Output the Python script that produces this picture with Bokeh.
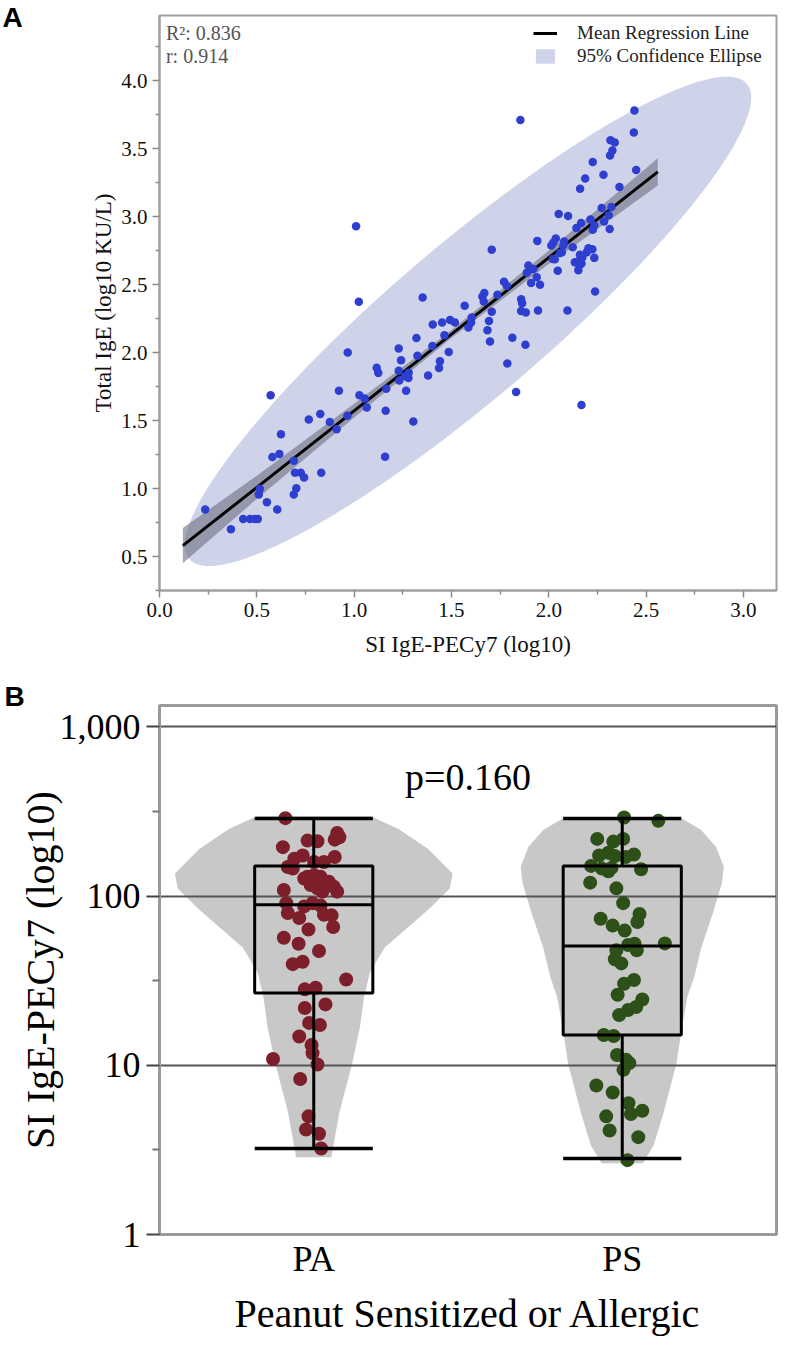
import numpy as np
from bokeh.plotting import figure
from bokeh.layouts import column
from bokeh.models import (Range1d, FactorRange, FixedTicker, NumeralTickFormatter,
                          Label, Legend, LegendItem)
from bokeh.embed import file_html
from bokeh.resources import INLINE

SERIF = "Liberation Serif"
SANS = "Liberation Sans"

# ---------------- Panel A data ----------------
si_log = [0.235, 0.367, 0.430, 0.465, 0.490, 0.505, 0.510, 0.516, 0.552, 0.605,
          0.571, 0.624, 0.580, 0.616, 0.690, 0.696, 0.726, 0.743, 0.703, 0.690,
          0.767, 0.826, 0.831, 0.875, 0.910, 0.922, 0.965, 0.967, 1.010, 1.024,
          1.027, 1.054, 1.065, 1.116, 1.124, 1.162, 1.165, 1.159, 1.229, 1.241,
          1.229, 1.232, 1.280, 1.263, 1.279, 1.267, 1.304, 1.320, 1.325, 1.352,
          1.380, 1.404, 1.402, 1.452, 1.441, 1.436, 1.464, 1.486, 1.493, 1.518,
          1.568, 1.587, 1.601, 1.604, 1.659, 1.669, 1.666, 1.707, 1.693, 1.685,
          1.698, 1.736, 1.707, 1.770, 1.784, 1.813, 1.787, 1.832, 1.854, 1.858,
          1.863, 1.858, 1.882, 1.880, 1.887, 1.895, 1.921, 1.909, 1.938, 1.955,
          1.945, 1.941, 2.013, 2.024, 2.036, 2.021, 2.031, 2.046, 2.051, 2.058,
          2.067, 2.075, 2.079, 2.096, 2.099, 2.123, 2.134, 2.142, 2.150, 2.152,
          2.157, 2.160, 2.161, 2.166, 2.168, 2.168, 2.172, 2.187, 2.195, 2.204,
          2.214, 2.224, 2.226, 2.226, 2.234, 2.234, 2.238, 2.272, 2.281, 2.284,
          2.308, 2.313, 2.315, 2.317, 2.322, 2.327, 2.339, 2.363, 2.437, 2.440,
          2.449]
ige_log = [0.845, 0.700, 0.776, 0.776, 0.776, 0.776, 0.956, 0.998, 0.900, 0.845,
           1.686, 1.400, 1.232, 1.254, 1.205, 1.116, 1.116, 1.082, 1.003, 0.956,
           1.508, 1.548, 1.116, 1.490, 1.437, 1.720, 1.535, 2.000, 2.930, 2.374,
           1.686, 1.663, 1.597, 1.888, 1.851, 1.572, 1.735, 1.234, 2.030, 1.944,
           1.866, 1.794, 1.851, 1.826, 1.814, 1.720, 1.493, 2.107, 1.977, 2.406,
           1.831, 2.206, 2.048, 2.221, 1.937, 1.886, 2.127, 2.004, 2.240, 2.221,
           2.344, 2.184, 2.221, 2.258, 2.413, 2.438, 2.376, 2.300, 2.233, 2.164,
           2.081, 2.425, 2.756, 2.521, 2.492, 2.110, 1.920, 1.711, 3.712, 2.393,
           2.364, 2.307, 2.295, 2.058, 2.588, 2.640, 2.615, 2.512, 2.554, 2.500,
           2.310, 2.822, 2.788, 2.810, 2.840, 2.689, 2.687, 2.603, 3.020, 2.732,
           2.739, 2.788, 2.817, 2.310, 3.005, 2.776, 2.665, 2.916, 2.670, 2.606,
           2.640, 2.720, 3.205, 2.953, 2.655, 1.614, 2.700, 3.281, 2.739, 2.768,
           2.980, 2.761, 2.904, 3.402, 2.936, 2.697, 2.450, 3.064, 3.308, 2.965,
           3.010, 2.909, 3.451, 3.562, 3.072, 3.486, 3.545, 3.219, 3.619, 3.782,
           3.343]

reg_x = [0.12, 2.56]
reg_y = [0.58, 3.33]
band_x = [0.12, 0.5, 1.0, 1.5, 2.0, 2.56]
band_lo = [0.45, 0.924, 1.523, 2.107, 2.651, 3.23]
band_hi = [0.71, 1.094, 1.623, 2.167, 2.751, 3.43]

ell_center = (1.585, 2.23)
ell_half_x = 1.455
ell_half_y = 1.80
r_value = 0.914
r2_value = 0.836

a_xticks = [0.0, 0.5, 1.0, 1.5, 2.0, 2.5, 3.0]
a_xminor = [0.25, 0.75, 1.25, 1.75, 2.25, 2.75]
a_yticks = [0.5, 1.0, 1.5, 2.0, 2.5, 3.0, 3.5, 4.0]
a_yminor = [0.25, 0.75, 1.25, 1.75, 2.25, 2.75, 3.25, 3.75, 4.25]

# ---------------- Panel B data ----------------
groups = ["PA", "PS"]
pa_si = [288.6, 236.0, 222.6, 215.5, 212.7, 211.0, 194.5, 170.2, 173.8, 166.3,
         159.0, 159.0, 148.6, 145.3, 130.0, 132.8, 130.0, 121.6, 113.6, 106.2,
         127.0, 116.1, 111.1, 106.2, 108.5, 90.8, 79.4, 86.9, 90.8, 88.0,
         74.2, 77.6, 76.9, 65.7, 63.4, 56.7, 52.3, 47.4, 39.6, 40.9,
         32.1, 28.1, 28.7, 21.8, 22.9, 17.8, 17.3, 14.8, 13.2, 11.8,
         10.9, 10.1, 8.3, 4.99, 4.17, 3.94, 3.22]
pa_jit = [-0.092, 0.076, 0.083, 0.068, -0.020, 0.012, -0.100, 0.068, -0.036, -0.063,
          0.001, 0.033, -0.084, -0.068, -0.020, 0.001, 0.022, 0.049, 0.065, 0.076,
          -0.031, -0.010, 0.012, 0.028, -0.097, -0.089, -0.084, -0.031, -0.004, 0.022,
          -0.047, 0.033, 0.058, 0.063, -0.017, -0.097, -0.049, 0.017, -0.068, -0.036,
          0.105, -0.029, 0.006, -0.029, 0.038, -0.015, 0.020, -0.047, -0.007, -0.004,
          -0.132, 0.012, -0.044, -0.017, -0.025, 0.017, 0.024]
ps_si = [291.3, 278.3, 217.6, 209.8, 217.6, 173.8, 180.3, 172.4, 176.2, 170.1,
         150.7, 145.3, 140.2, 146.7, 144.0, 120.0, 111.1, 90.8, 73.5, 66.9,
         62.5, 78.3, 70.3, 52.5, 47.8, 51.4, 52.3, 47.8, 42.3, 40.0,
         30.3, 31.9, 26.1, 24.5, 21.2, 22.1, 19.8, 15.1, 14.9, 11.5,
         10.8, 10.3, 9.4, 7.6, 6.9, 5.97, 5.39, 5.15, 4.99, 4.12,
         3.76, 2.75]
ps_jit = [0.006, 0.117, -0.081, -0.029, 0.003, -0.075, -0.045, -0.024, 0.038, 0.011,
          -0.101, -0.066, -0.045, -0.035, 0.061, -0.104, -0.019, 0.003, -0.070, -0.031,
          0.008, 0.056, 0.049, 0.138, -0.019, 0.019, 0.040, 0.047, -0.024, -0.003,
          0.006, 0.038, -0.015, 0.065, 0.019, 0.045, -0.010, -0.060, -0.028, -0.017,
          0.012, 0.023, 0.004, -0.084, -0.031, 0.020, 0.065, 0.028, -0.052, -0.041,
          0.052, 0.017]

box_lo = [3.22, 2.81]
box_q1 = [26.7, 15.1]
box_med = [88.7, 50.7]
box_q3 = [150.7, 150.7]
box_hi = [287.6, 287.6]

pa_violin_y = [2.86, 2.94, 5.24, 10.3, 16.9, 25.3, 35.4, 49.6, 64.9, 85.0, 111.0, 136.0, 190.0, 249.0, 296.6]
pa_violin_w = [0.058, 0.058, 0.083, 0.125, 0.150, 0.163, 0.182, 0.230, 0.304, 0.377, 0.441, 0.450, 0.371, 0.275, 0.185]
ps_violin_y = [2.64, 3.37, 5.24, 10.3, 16.2, 25.3, 33.1, 49.5, 79.4, 119.0, 149.0, 195.5, 245.6, 288.0]
ps_violin_w = [0.067, 0.102, 0.134, 0.176, 0.192, 0.211, 0.233, 0.256, 0.294, 0.323, 0.329, 0.304, 0.256, 0.192]

b_yticks = [1, 10, 100, 1000]
b_yminor = [3.16, 31.6, 316]
p_value_text = "p=0.160"


def panel_letter(p, letter, offset, standoff):
    p.title.text = letter
    p.title.align = "left"
    p.title.offset = offset
    p.title.standoff = standoff
    p.title.text_font = SANS
    p.title.text_font_size = "28px"
    p.title.text_font_style = "bold"
    p.title.text_color = "black"


# ================= Panel A =================
pA = figure(width=780, height=668, x_range=Range1d(0, 3.17), y_range=Range1d(0.25, 4.48),
            output_backend="svg", toolbar_location=None,
            min_border_left=159, min_border_right=4, min_border_top=15, min_border_bottom=78)
pA.xgrid.visible = False
pA.ygrid.visible = False
pA.outline_line_color = "#a0a0a0"
pA.outline_line_width = 2
pA.background_fill_color = "white"
panel_letter(pA, "A", -157, -34)

t = np.linspace(0, 2 * np.pi, 361)
ex = ell_center[0] + ell_half_x * np.cos(t)
ey = ell_center[1] + ell_half_y * (r_value * np.cos(t) + np.sqrt(1 - r_value ** 2) * np.sin(t))
ell_r = pA.patch(ex, ey, fill_color="#cfd3ea", line_color=None)
pA.varea(x=band_x, y1=band_lo, y2=band_hi, fill_color="#6e7080", fill_alpha=0.6)
line_r = pA.line(reg_x, reg_y, line_color="black", line_width=3)
pA.scatter(si_log, ige_log, size=8.5, fill_color="#2e3fcf", line_color=None)

legend = Legend(items=[LegendItem(label="Mean Regression Line", renderers=[line_r]),
                       LegendItem(label="95% Confidence Ellipse", renderers=[ell_r])],
                location="top_right", border_line_alpha=0, background_fill_alpha=0,
                label_text_font=SERIF, label_text_font_size="19px", label_text_color="#222222",
                glyph_width=24, glyph_height=18, label_standoff=20, label_width=192,
                label_height=22, spacing=1, padding=4, margin=3)
pA.add_layout(legend)

pA.xaxis.ticker = FixedTicker(ticks=a_xticks, minor_ticks=a_xminor)
pA.yaxis.ticker = FixedTicker(ticks=a_yticks, minor_ticks=a_yminor)
pA.xaxis.formatter = NumeralTickFormatter(format="0.0")
pA.yaxis.formatter = NumeralTickFormatter(format="0.0")
pA.xaxis.axis_label = "SI IgE-PECy7 (log10)"
pA.yaxis.axis_label = "Total IgE (log10 KU/L)"
for ax in (pA.xaxis[0], pA.yaxis[0]):
    ax.axis_line_color = "#a0a0a0"
    ax.axis_line_width = 2
    ax.major_tick_line_color = "#8a8a8a"
    ax.minor_tick_line_color = "#8a8a8a"
    ax.major_tick_line_width = 1.5
    ax.minor_tick_line_width = 1.5
    ax.major_tick_out = 7
    ax.major_tick_in = 0
    ax.minor_tick_out = 4
    ax.minor_tick_in = 0
    ax.major_label_text_font = SERIF
    ax.major_label_text_font_size = "21px"
    ax.major_label_text_color = "#111111"
    ax.axis_label_text_font = SERIF
    ax.axis_label_text_font_size = "23px"
    ax.axis_label_text_font_style = "normal"
    ax.axis_label_text_color = "#111111"
pA.xaxis.major_label_standoff = 5
pA.xaxis.axis_label_standoff = 12
pA.yaxis.major_label_standoff = 5
pA.yaxis.axis_label_standoff = 2

pA.add_layout(Label(x=0.033, y=4.354, text="R²: 0.836", text_font=SERIF, text_font_size="20px",
                    text_color="#555555", text_baseline="middle"))
pA.add_layout(Label(x=0.033, y=4.184, text="r: 0.914", text_font=SERIF, text_font_size="20px",
                    text_color="#555555", text_baseline="middle"))

# ================= Panel B =================
pB = figure(width=780, height=670, x_range=FactorRange(*groups), y_axis_type="log",
            y_range=Range1d(1, 1337), output_backend="svg", toolbar_location=None,
            min_border_left=157, min_border_right=3, min_border_top=37, min_border_bottom=102)
pB.outline_line_color = "#9a9a9a"
pB.outline_line_width = 3
pB.xgrid.visible = False
pB.ygrid.grid_line_color = "#555555"
pB.ygrid.grid_line_width = 2
panel_letter(pB, "B", -155, -12)

centers = [i + 0.5 for i in range(len(groups))]
for c, vy, vw in ((centers[0], pa_violin_y, pa_violin_w), (centers[1], ps_violin_y, ps_violin_w)):
    xs = [c - w for w in vw] + [c + w for w in reversed(vw)]
    ys = list(vy) + list(reversed(vy))
    vr = pB.patch(xs, ys, fill_color="#c8c8c8", line_color=None)
    vr.level = "image"

pB.scatter([centers[0] + j for j in pa_jit], pa_si, size=14, fill_color="#7d1f2b", line_color=None)
pB.scatter([centers[1] + j for j in ps_jit], ps_si, size=14, fill_color="#2d5019", line_color=None)

half = 0.1915
bl = [c - half for c in centers]
br = [c + half for c in centers]
pB.quad(left=bl, right=br, bottom=box_q1, top=box_q3, fill_color=None, line_color="black", line_width=3)
pB.segment(x0=bl, x1=br, y0=box_med, y1=box_med, line_color="black", line_width=3)
pB.segment(x0=centers, x1=centers, y0=box_q3, y1=box_hi, line_color="black", line_width=3)
pB.segment(x0=centers, x1=centers, y0=box_q1, y1=box_lo, line_color="black", line_width=3)
pB.segment(x0=bl, x1=br, y0=box_hi, y1=box_hi, line_color="black", line_width=3.5)
pB.segment(x0=bl, x1=br, y0=box_lo, y1=box_lo, line_color="black", line_width=3.5)

pB.yaxis.ticker = FixedTicker(ticks=b_yticks, minor_ticks=b_yminor)
pB.yaxis.formatter = NumeralTickFormatter(format="0,0")
pB.yaxis.axis_label = "SI IgE-PECy7 (log10)"
pB.xaxis.axis_label = "Peanut Sensitized or Allergic"
for ax in (pB.xaxis[0], pB.yaxis[0]):
    ax.axis_line_color = "#9a9a9a"
    ax.axis_line_width = 3
    ax.major_label_text_font = SERIF
    ax.major_label_text_font_size = "36px"
    ax.major_label_text_color = "black"
    ax.axis_label_text_font = SERIF
    ax.axis_label_text_font_size = "40px"
    ax.axis_label_text_font_style = "normal"
    ax.axis_label_text_color = "black"
pB.yaxis.major_tick_line_color = "#444444"
pB.yaxis.major_tick_line_width = 2
pB.yaxis.minor_tick_line_color = "#777777"
pB.yaxis.minor_tick_line_width = 2
pB.yaxis.major_tick_out = 13
pB.yaxis.major_tick_in = 0
pB.yaxis.minor_tick_out = 7
pB.yaxis.minor_tick_in = 0
pB.yaxis.major_label_standoff = 6
pB.yaxis.axis_label_standoff = -6
pB.xaxis.major_tick_line_color = None
pB.xaxis.minor_tick_line_color = None
pB.xaxis.major_tick_out = 0
pB.xaxis.major_label_standoff = 4
pB.xaxis.axis_label_standoff = 9

pB.add_layout(Label(x=1.0, y=508, text=p_value_text, text_font=SERIF, text_font_size="38px",
                    text_color="black", text_align="center", text_baseline="middle"))

layout = column(pA, pB, spacing=0)
open("out.html", "w").write(file_html(layout, INLINE))
